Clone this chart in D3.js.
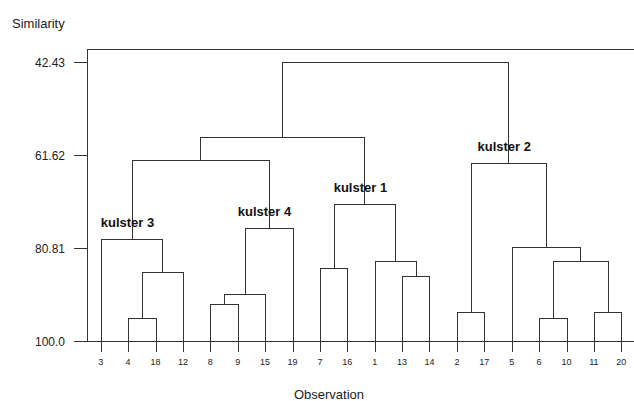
<!DOCTYPE html>
<html>
<head>
<meta charset="utf-8">
<script src="https://cdn.jsdelivr.net/npm/d3@7"></script>
<style>
  body { margin: 0; background: #fff; }
  svg { display: block; font-family: Arial, "Liberation Sans", sans-serif; }
</style>
</head>
<body>
<div id="chart"></div>
<script>
// --- data ---
const leafOrder = ["3", "4", "18", "12", "8", "9", "15", "19", "7", "16",
                   "1", "13", "14", "2", "17", "5", "6", "10", "11", "20"];

// [id, left, right, similarity]
const merges = [
  ["m1", "4", "18", 95.25],
  ["m2", "m1", "12", 85.64],
  ["c3", "3", "m2", 78.95],
  ["m3", "8", "9", 92.24],
  ["m4", "m3", "15", 90.18],
  ["c4", "m4", "19", 76.62],
  ["m5", "c3", "c4", 62.65],
  ["m6", "7", "16", 84.94],
  ["m7", "13", "14", 86.53],
  ["m8", "1", "m7", 83.43],
  ["c1", "m6", "m8", 71.67],
  ["m9", "m5", "c1", 57.78],
  ["m10", "2", "17", 94.02],
  ["m11", "6", "10", 95.25],
  ["m12", "11", "20", 94.02],
  ["m13", "m11", "m12", 83.43],
  ["m14", "5", "m13", 80.54],
  ["c2", "m10", "m14", 63.27],
  ["root", "m9", "c2", 42.43]
];

const clusterLabels = [
  ["c3", "kulster 3"],
  ["c4", "kulster 4"],
  ["c1", "kulster 1"],
  ["c2", "kulster 2"]
];

const yTicks = [42.43, 61.62, 80.81, 100.0];
const yTickLabels = ["42.43", "61.62", "80.81", "100.0"];

// --- layout ---
const width = 634, height = 401;
const left = 87, right = 635;

const x = d3.scalePoint().domain(leafOrder).range([left, right]).padding(0.5);
const y = d3.scaleLinear().domain([100, 42.43]).range([341.3, 62.3]);
const frameTop = y(39.6);
const base = y(100);

const svg = d3.select('#chart').append('svg')
  .attr('width', width)
  .attr('height', height);

const ink = '#333';
const px = v => Math.round(v) + 0.5;

// node positions
const pos = {};
leafOrder.forEach(l => { pos[l] = { x: x(l), y: base }; });
merges.forEach(([id, a, b, s]) => {
  pos[id] = { x: (pos[a].x + pos[b].x) / 2, y: y(s) };
});

const g = svg.append('g')
  .attr('fill', 'none')
  .attr('stroke', ink)
  .attr('stroke-width', 1)
  .attr('shape-rendering', 'crispEdges');

// frame (left + top) and baseline
g.append('path')
  .attr('d', `M${px(left)},${px(base)}V${px(frameTop)}H${width}`);
g.append('path')
  .attr('d', `M${px(73)},${px(base)}H${width}`);

// y ticks
g.selectAll('.ytick').data(yTicks).join('path')
  .attr('d', d => `M${px(73)},${px(y(d))}H${px(left)}`);

// leaf stubs
g.selectAll('.leaf').data(leafOrder).join('path')
  .attr('d', d => `M${px(x(d))},${px(base)}V${px(base + 10)}`);

// dendrogram links
g.selectAll('.link').data(merges).join('path')
  .attr('d', ([id, a, b]) => {
    const p = pos[id], A = pos[a], B = pos[b];
    return `M${px(A.x)},${px(A.y)}V${px(p.y)}H${px(B.x)}V${px(B.y)}`;
  });

// tick labels
svg.selectAll('.ylab').data(yTicks).join('text')
  .attr('x', 65)
  .attr('y', d => y(d) + 4.5)
  .attr('text-anchor', 'end')
  .attr('font-size', 12)
  .attr('fill', '#222')
  .text((d, i) => yTickLabels[i]);

svg.selectAll('.xlab').data(leafOrder).join('text')
  .attr('x', d => x(d))
  .attr('y', base + 24)
  .attr('text-anchor', 'middle')
  .attr('font-size', 9)
  .attr('fill', '#222')
  .text(d => d);

// cluster labels
svg.selectAll('.clab').data(clusterLabels).join('text')
  .attr('x', d => pos[d[0]].x - 4)
  .attr('y', d => pos[d[0]].y - 12)
  .attr('text-anchor', 'middle')
  .attr('font-size', 13)
  .attr('font-weight', 'bold')
  .attr('fill', '#111')
  .text(d => d[1]);

// axis titles
svg.append('text')
  .attr('x', 12).attr('y', 28)
  .attr('font-size', 13).attr('fill', '#222')
  .text('Similarity');

svg.append('text')
  .attr('x', 329).attr('y', 399)
  .attr('text-anchor', 'middle')
  .attr('font-size', 13).attr('fill', '#222')
  .text('Observation');
</script>
</body>
</html>
